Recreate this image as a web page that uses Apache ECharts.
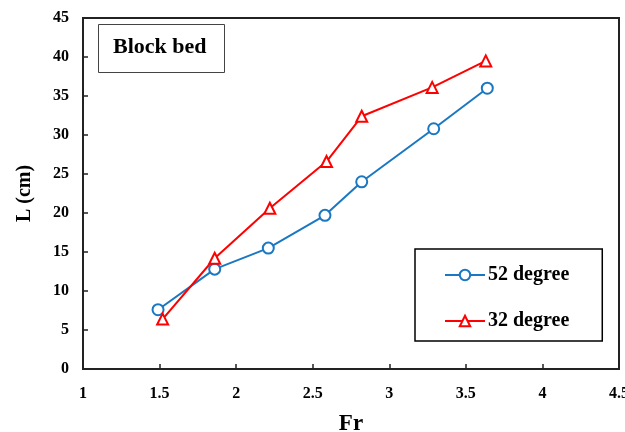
<!DOCTYPE html>
<html>
<head>
<meta charset="utf-8">
<script src="https://cdn.jsdelivr.net/npm/echarts@6/dist/echarts.min.js"></script>
<style>
  html, body { margin: 0; padding: 0; background: #fff; }
  #chart { width: 625px; height: 432px; }
</style>
</head>
<body>
<div id="chart"></div>
<script>
// Froude number values for each run
const fr52 = [1.49, 1.86, 2.21, 2.58, 2.82, 3.29, 3.64];
const len52 = [7.6, 12.8, 15.5, 19.7, 24.0, 30.8, 36.0];
const fr32 = [1.52, 1.86, 2.22, 2.59, 2.82, 3.28, 3.63];
const len32 = [6.4, 14.2, 20.6, 26.6, 32.4, 36.1, 39.5];

const seriesNames = ['52 degree', '32 degree'];
const seriesColors = ['#1a78c2', '#ff0000'];

const serif = '"Liberation Serif", "Times New Roman", serif';

function pairs(xs, ys) {
  return xs.map((x, i) => [x, ys[i]]);
}

const chart = echarts.init(document.getElementById('chart'), null, { renderer: 'canvas' });

chart.setOption({
  animation: false,
  backgroundColor: '#ffffff',
  title: {
    text: 'Block bed',
    left: 98,
    top: 24,
    padding: [12, 18, 15, 15],
    borderColor: '#444',
    borderWidth: 1,
    textStyle: { fontFamily: serif, fontWeight: 'bold', fontSize: 22, color: '#000' }
  },
  legend: {
    orient: 'vertical',
    left: 415,
    top: 249,
    padding: [16, 33, 10, 29],
    itemGap: 26,
    itemWidth: 40,
    itemHeight: 13,
    borderColor: '#000',
    borderWidth: 1.5,
    data: seriesNames,
    textStyle: { fontFamily: serif, fontWeight: 'bold', fontSize: 20, color: '#000', padding: [0, 0, 0, -2] }
  },
  grid: {
    left: 83,
    right: 6,
    top: 18,
    bottom: 63,
    outerBoundsMode: 'none',
    show: true,
    borderColor: '#222',
    borderWidth: 2
  },
  xAxis: {
    type: 'value',
    min: 1,
    max: 4.5,
    interval: 0.5,
    name: 'Fr',
    nameLocation: 'middle',
    nameGap: 44,
    nameTextStyle: { fontFamily: serif, fontWeight: 'bold', fontSize: 23, color: '#000' },
    axisLine: { show: true, lineStyle: { color: '#222', width: 2 } },
    axisTick: { show: true, inside: true, length: 5, lineStyle: { color: '#222', width: 1.5 } },
    axisLabel: { fontFamily: serif, fontWeight: 'bold', fontSize: 16, color: '#000', margin: 17 },
    splitLine: { show: false }
  },
  yAxis: {
    type: 'value',
    min: 0,
    max: 45,
    interval: 5,
    name: 'L (cm)',
    nameLocation: 'middle',
    nameGap: 48,
    nameRotate: 90,
    nameTextStyle: { fontFamily: serif, fontWeight: 'bold', fontSize: 20, color: '#000' },
    axisLine: { show: true, lineStyle: { color: '#222', width: 2 } },
    axisTick: { show: true, inside: true, length: 5, lineStyle: { color: '#222', width: 1.5 } },
    axisLabel: { fontFamily: serif, fontWeight: 'bold', fontSize: 16, color: '#000', margin: 14 },
    splitLine: { show: false }
  },
  series: [
    {
      name: seriesNames[0],
      type: 'line',
      data: pairs(fr52, len52),
      symbol: 'circle',
      symbolSize: 11,
      color: seriesColors[0],
      lineStyle: { color: seriesColors[0], width: 2 },
      itemStyle: { color: '#ffffff', borderColor: seriesColors[0], borderWidth: 2 }
    },
    {
      name: seriesNames[1],
      type: 'line',
      data: pairs(fr32, len32),
      symbol: 'triangle',
      symbolSize: 11,
      color: seriesColors[1],
      lineStyle: { color: seriesColors[1], width: 2 },
      itemStyle: { color: '#ffffff', borderColor: seriesColors[1], borderWidth: 2 }
    }
  ]
});
</script>
</body>
</html>
